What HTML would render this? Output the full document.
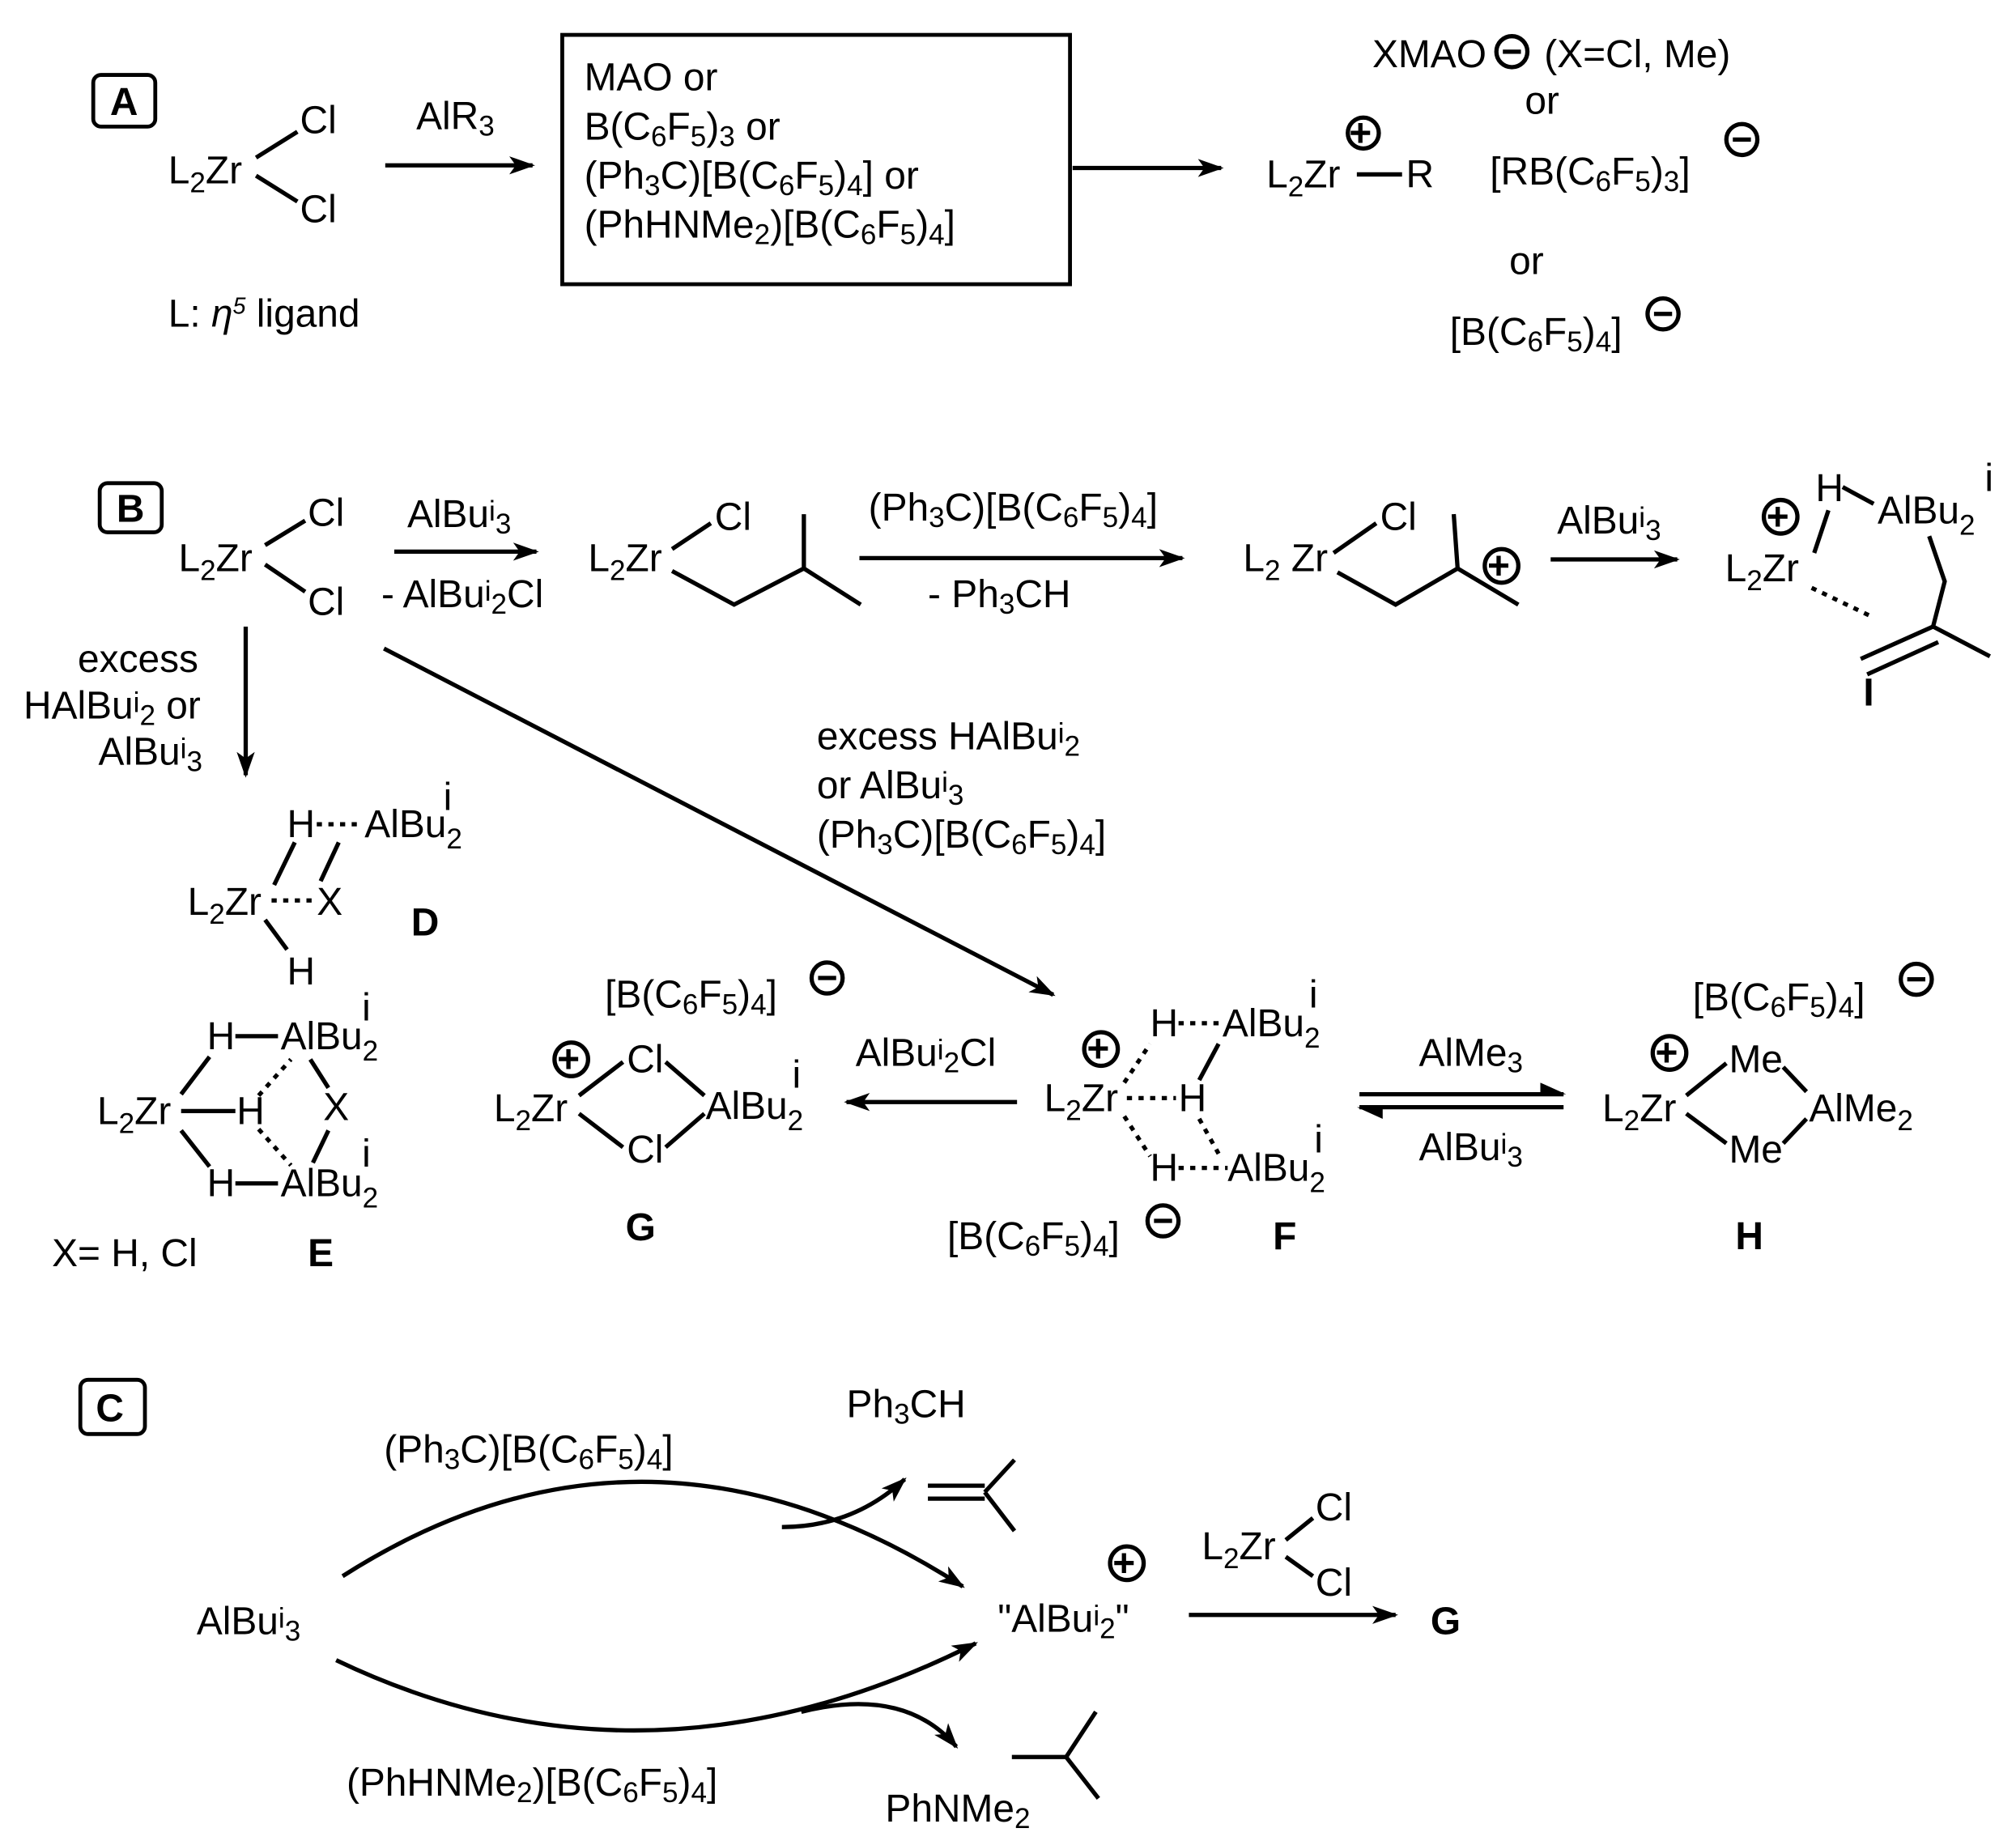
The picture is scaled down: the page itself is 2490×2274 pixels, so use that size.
<!DOCTYPE html>
<html><head><meta charset="utf-8"><style>
html,body{margin:0;padding:0;background:#fff}
svg{display:block}
text{font-family:"Liberation Sans Narrow","Liberation Sans",sans-serif;font-size:30px;fill:#000}
.b{font-weight:bold}
line,path,polyline{stroke:#000;stroke-width:3.3;fill:none}
.d{stroke-dasharray:4 5}
circle{fill:none;stroke:#000;stroke-width:3.3}
</style></head><body>
<svg width="2490" height="2274" viewBox="0 0 1560 1425" xmlns="http://www.w3.org/2000/svg">
<defs>
<marker id="ah" viewBox="0 0 20 14" refX="18" refY="7" markerWidth="20" markerHeight="14" markerUnits="userSpaceOnUse" orient="auto"><path d="M0,0 L20,7 L0,14 L5,7 Z" style="fill:#000;stroke:none"/></marker>
<marker id="hh" viewBox="0 0 20 10" refX="18" refY="9" markerWidth="20" markerHeight="10" markerUnits="userSpaceOnUse" orient="auto"><path d="M0,0 L20,9 L0,9 Z" style="fill:#000;stroke:none"/></marker>
</defs>

<!-- Section A -->
<rect x="72" y="58" width="48" height="40" rx="6" style="fill:none;stroke:#000;stroke-width:3"/>
<text x="85" y="89" class="b">A</text>
<text x="130" y="142">L<tspan font-size="22" baseline-shift="-7">2</tspan>Zr</text>
<text x="232" y="103">Cl</text><text x="232" y="172">Cl</text>
<line x1="198" y1="122" x2="230" y2="102"/><line x1="198" y1="136" x2="230" y2="156"/>
<text x="130" y="253">L: <tspan font-style="italic">η</tspan><tspan font-size="18" baseline-shift="10" font-style="italic">5</tspan> ligand</text>
<line x1="298" y1="128" x2="412" y2="128" marker-end="url(#ah)"/>
<text x="322" y="100">AlR<tspan font-size="22" baseline-shift="-5">3</tspan></text>
<rect x="435" y="27" width="393" height="193" style="fill:none;stroke:#000;stroke-width:3"/>
<text x="452" y="70">MAO or</text>
<text x="452" y="108">B(C<tspan font-size="22" baseline-shift="-5">6</tspan>F<tspan font-size="22" baseline-shift="-5">5</tspan>)<tspan font-size="22" baseline-shift="-5">3</tspan> or</text>
<text x="452" y="146">(Ph<tspan font-size="22" baseline-shift="-5">3</tspan>C)[B(C<tspan font-size="22" baseline-shift="-5">6</tspan>F<tspan font-size="22" baseline-shift="-5">5</tspan>)<tspan font-size="22" baseline-shift="-5">4</tspan>] or</text>
<text x="452" y="184">(PhHNMe<tspan font-size="22" baseline-shift="-5">2</tspan>)[B(C<tspan font-size="22" baseline-shift="-5">6</tspan>F<tspan font-size="22" baseline-shift="-5">5</tspan>)<tspan font-size="22" baseline-shift="-5">4</tspan>]</text>
<line x1="830" y1="130" x2="945" y2="130" marker-end="url(#ah)"/>
<text x="980" y="145">L<tspan font-size="22" baseline-shift="-7">2</tspan>Zr</text>
<line x1="1050" y1="135" x2="1085" y2="135"/><text x="1088" y="145">R</text>
<circle cx="1055" cy="103" r="12"/><text x="1044" y="113" class="b" font-size="28">+</text>
<text x="1062" y="52">XMAO</text>
<circle cx="1170" cy="40" r="12"/><line x1="1163" y1="40" x2="1177" y2="40"/>
<text x="1195" y="52">(X=Cl, Me)</text>
<text x="1180" y="88">or</text>
<text x="1153" y="143">[RB(C<tspan font-size="22" baseline-shift="-5">6</tspan>F<tspan font-size="22" baseline-shift="-5">5</tspan>)<tspan font-size="22" baseline-shift="-5">3</tspan>]</text>
<circle cx="1348" cy="108" r="12"/><line x1="1341" y1="108" x2="1355" y2="108"/>
<text x="1168" y="212">or</text>
<text x="1122" y="267">[B(C<tspan font-size="22" baseline-shift="-5">6</tspan>F<tspan font-size="22" baseline-shift="-5">5</tspan>)<tspan font-size="22" baseline-shift="-5">4</tspan>]</text>
<circle cx="1287" cy="243" r="12"/><line x1="1280" y1="243" x2="1294" y2="243"/>

<!-- Section B -->
<rect x="77" y="374" width="48" height="38" rx="6" style="fill:none;stroke:#000;stroke-width:3"/>
<text x="90" y="404" class="b">B</text>
<text x="138" y="442">L<tspan font-size="22" baseline-shift="-7">2</tspan>Zr</text>
<text x="238" y="407">Cl</text><text x="238" y="476">Cl</text>
<line x1="205" y1="422" x2="236" y2="403"/><line x1="205" y1="437" x2="236" y2="458"/>
<line x1="305" y1="427" x2="415" y2="427" marker-end="url(#ah)"/>
<text x="315" y="408">AlBu<tspan font-size="22" baseline-shift="5">i</tspan><tspan font-size="22" baseline-shift="-5">3</tspan></text>
<text x="295" y="470">- AlBu<tspan font-size="22" baseline-shift="5">i</tspan><tspan font-size="22" baseline-shift="-5">2</tspan>Cl</text>
<text x="455" y="442">L<tspan font-size="22" baseline-shift="-7">2</tspan>Zr</text>
<text x="553" y="410">Cl</text>
<line x1="520" y1="425" x2="550" y2="405"/>
<polyline points="520,442 568,468 622,440 622,398"/><line x1="622" y1="440" x2="666" y2="468"/>
<line x1="665" y1="432" x2="915" y2="432" marker-end="url(#ah)"/>
<text x="672" y="403">(Ph<tspan font-size="22" baseline-shift="-5">3</tspan>C)[B(C<tspan font-size="22" baseline-shift="-5">6</tspan>F<tspan font-size="22" baseline-shift="-5">5</tspan>)<tspan font-size="22" baseline-shift="-5">4</tspan>]</text>
<text x="718" y="470">- Ph<tspan font-size="22" baseline-shift="-5">3</tspan>CH</text>
<text x="962" y="442">L<tspan font-size="22" baseline-shift="-7">2</tspan> Zr</text>
<text x="1068" y="410">Cl</text>
<line x1="1032" y1="428" x2="1065" y2="405"/>
<polyline points="1035,443 1080,468 1128,440 1125,398"/><line x1="1128" y1="440" x2="1175" y2="468"/>
<circle cx="1162" cy="438" r="13"/><text x="1151" y="448" class="b" font-size="28">+</text>
<line x1="1200" y1="433" x2="1298" y2="433" marker-end="url(#ah)"/>
<text x="1205" y="413">AlBu<tspan font-size="22" baseline-shift="5">i</tspan><tspan font-size="22" baseline-shift="-5">3</tspan></text>
<circle cx="1378" cy="400" r="13"/><text x="1367" y="410" class="b" font-size="28">+</text>
<text x="1405" y="388">H</text>
<line x1="1426" y1="377" x2="1450" y2="390"/>
<text x="1453" y="405">AlBu<tspan font-size="22" baseline-shift="-9">2</tspan></text>
<text x="1536" y="380" font-size="24">i</text>
<line x1="1415" y1="395" x2="1404" y2="428"/>
<text x="1335" y="450">L<tspan font-size="22" baseline-shift="-7">2</tspan>Zr</text>
<line x1="1402" y1="455" x2="1450" y2="478" class="d"/>
<polyline points="1493,415 1505,450 1496,485"/>
<line x1="1496" y1="485" x2="1540" y2="508"/>
<line x1="1496" y1="485" x2="1440" y2="510"/>
<line x1="1500" y1="497" x2="1445" y2="522"/>
<text x="1442" y="546" class="b">I</text>

<line x1="190" y1="485" x2="190" y2="600" marker-end="url(#ah)"/>
<text x="60" y="520">excess</text>
<text x="18" y="556">HAlBu<tspan font-size="22" baseline-shift="5">i</tspan><tspan font-size="22" baseline-shift="-5">2</tspan> or</text>
<text x="76" y="592">AlBu<tspan font-size="22" baseline-shift="5">i</tspan><tspan font-size="22" baseline-shift="-5">3</tspan></text>
<line x1="297" y1="502" x2="815" y2="770" marker-end="url(#ah)"/>
<text x="632" y="580">excess HAlBu<tspan font-size="22" baseline-shift="5">i</tspan><tspan font-size="22" baseline-shift="-5">2</tspan></text>
<text x="632" y="618">or AlBu<tspan font-size="22" baseline-shift="5">i</tspan><tspan font-size="22" baseline-shift="-5">3</tspan></text>
<text x="632" y="656">(Ph<tspan font-size="22" baseline-shift="-5">3</tspan>C)[B(C<tspan font-size="22" baseline-shift="-5">6</tspan>F<tspan font-size="22" baseline-shift="-5">5</tspan>)<tspan font-size="22" baseline-shift="-5">4</tspan>]</text>

<!-- D -->
<text x="222" y="648">H</text><line x1="245" y1="638" x2="280" y2="638" class="d"/>
<text x="282" y="648">AlBu<tspan font-size="22" baseline-shift="-9">2</tspan></text><text x="343" y="627" font-size="24">i</text>
<line x1="228" y1="652" x2="212" y2="685"/><line x1="262" y1="652" x2="248" y2="682"/>
<text x="145" y="708">L<tspan font-size="22" baseline-shift="-7">2</tspan>Zr</text>
<line x1="210" y1="697" x2="243" y2="697" class="d"/><text x="245" y="708">X</text>
<line x1="205" y1="712" x2="222" y2="735"/><text x="222" y="762">H</text>
<text x="318" y="724" class="b">D</text>

<!-- E -->
<text x="160" y="812">H</text><line x1="182" y1="802" x2="215" y2="802"/>
<text x="217" y="812">AlBu<tspan font-size="22" baseline-shift="-9">2</tspan></text><text x="280" y="790" font-size="24">i</text>
<text x="75" y="870">L<tspan font-size="22" baseline-shift="-7">2</tspan>Zr</text><line x1="140" y1="860" x2="182" y2="860"/><text x="183" y="870">H</text>
<text x="250" y="867">X</text>
<text x="160" y="926">H</text><line x1="182" y1="916" x2="215" y2="916"/>
<text x="217" y="926">AlBu<tspan font-size="22" baseline-shift="-9">2</tspan></text><text x="280" y="903" font-size="24">i</text>
<line x1="162" y1="818" x2="140" y2="847"/><line x1="140" y1="875" x2="162" y2="903"/>
<line x1="200" y1="848" x2="225" y2="820" class="d"/><line x1="200" y1="874" x2="225" y2="902" class="d"/>
<line x1="240" y1="820" x2="254" y2="842"/><line x1="254" y1="875" x2="242" y2="900"/>
<text x="40" y="980">X= H, Cl</text><text x="238" y="980" class="b">E</text>

<!-- G -->
<text x="468" y="780">[B(C<tspan font-size="22" baseline-shift="-5">6</tspan>F<tspan font-size="22" baseline-shift="-5">5</tspan>)<tspan font-size="22" baseline-shift="-5">4</tspan>]</text>
<circle cx="640" cy="757" r="12"/><line x1="633" y1="757" x2="647" y2="757"/>
<circle cx="442" cy="820" r="13"/><text x="431" y="830" class="b" font-size="28">+</text>
<text x="485" y="830">Cl</text>
<text x="382" y="868">L<tspan font-size="22" baseline-shift="-7">2</tspan>Zr</text>
<line x1="448" y1="848" x2="482" y2="822"/><line x1="448" y1="862" x2="482" y2="888"/>
<line x1="515" y1="822" x2="545" y2="848"/><line x1="515" y1="888" x2="545" y2="862"/>
<text x="546" y="866">AlBu<tspan font-size="22" baseline-shift="-9">2</tspan></text><text x="613" y="842" font-size="24">i</text>
<text x="485" y="900">Cl</text>
<text x="484" y="960" class="b">G</text>
<line x1="787" y1="853" x2="655" y2="853" marker-end="url(#ah)"/>
<text x="662" y="825">AlBu<tspan font-size="22" baseline-shift="5">i</tspan><tspan font-size="22" baseline-shift="-5">2</tspan>Cl</text>

<!-- F -->
<circle cx="852" cy="812" r="13"/><text x="841" y="822" class="b" font-size="28">+</text>
<text x="890" y="802">H</text><line x1="912" y1="792" x2="944" y2="792" class="d"/>
<text x="946" y="802">AlBu<tspan font-size="22" baseline-shift="-9">2</tspan></text><text x="1013" y="780" font-size="24">i</text>
<text x="808" y="860">L<tspan font-size="22" baseline-shift="-7">2</tspan>Zr</text><line x1="872" y1="850" x2="910" y2="850" class="d"/><text x="912" y="860">H</text>
<line x1="870" y1="838" x2="890" y2="808" class="d"/><line x1="870" y1="864" x2="890" y2="895" class="d"/>
<line x1="928" y1="836" x2="943" y2="808"/><line x1="928" y1="866" x2="943" y2="893" class="d"/>
<text x="890" y="914">H</text><line x1="912" y1="904" x2="950" y2="904" class="d"/>
<text x="950" y="914">AlBu<tspan font-size="22" baseline-shift="-9">2</tspan></text><text x="1017" y="892" font-size="24">i</text>
<text x="733" y="967">[B(C<tspan font-size="22" baseline-shift="-5">6</tspan>F<tspan font-size="22" baseline-shift="-5">5</tspan>)<tspan font-size="22" baseline-shift="-5">4</tspan>]</text>
<circle cx="900" cy="945" r="12"/><line x1="893" y1="945" x2="907" y2="945"/>
<text x="985" y="967" class="b">F</text>
<line x1="1052" y1="847" x2="1210" y2="847" marker-end="url(#hh)"/>
<line x1="1210" y1="857" x2="1052" y2="857" marker-end="url(#hh)"/>
<text x="1098" y="825">AlMe<tspan font-size="22" baseline-shift="-5">3</tspan></text>
<text x="1098" y="898">AlBu<tspan font-size="22" baseline-shift="5">i</tspan><tspan font-size="22" baseline-shift="-5">3</tspan></text>

<!-- H -->
<text x="1310" y="782">[B(C<tspan font-size="22" baseline-shift="-5">6</tspan>F<tspan font-size="22" baseline-shift="-5">5</tspan>)<tspan font-size="22" baseline-shift="-5">4</tspan>]</text>
<circle cx="1483" cy="758" r="12"/><line x1="1476" y1="758" x2="1490" y2="758"/>
<circle cx="1292" cy="815" r="13"/><text x="1281" y="825" class="b" font-size="28">+</text>
<text x="1338" y="830">Me</text>
<text x="1240" y="868">L<tspan font-size="22" baseline-shift="-7">2</tspan>Zr</text>
<line x1="1305" y1="848" x2="1336" y2="823"/><line x1="1305" y1="862" x2="1336" y2="885"/>
<line x1="1380" y1="826" x2="1398" y2="845"/><line x1="1380" y1="885" x2="1398" y2="866"/>
<text x="1400" y="868">AlMe<tspan font-size="22" baseline-shift="-7">2</tspan></text>
<text x="1338" y="900">Me</text>
<text x="1343" y="967" class="b">H</text>

<!-- Section C -->
<rect x="62" y="1068" width="50" height="42" rx="6" style="fill:none;stroke:#000;stroke-width:3"/>
<text x="74" y="1100" class="b">C</text>
<text x="152" y="1265">AlBu<tspan font-size="22" baseline-shift="5">i</tspan><tspan font-size="22" baseline-shift="-5">3</tspan></text>
<path d="M265,1220 Q500,1070 745,1228" marker-end="url(#ah)"/>
<path d="M605,1182 Q660,1182 700,1145" marker-end="url(#ah)"/>
<text x="297" y="1132">(Ph<tspan font-size="22" baseline-shift="-5">3</tspan>C)[B(C<tspan font-size="22" baseline-shift="-5">6</tspan>F<tspan font-size="22" baseline-shift="-5">5</tspan>)<tspan font-size="22" baseline-shift="-5">4</tspan>]</text>
<text x="655" y="1097">Ph<tspan font-size="22" baseline-shift="-5">3</tspan>CH</text>
<line x1="718" y1="1150" x2="762" y2="1150"/><line x1="718" y1="1160" x2="762" y2="1160"/>
<line x1="762" y1="1155" x2="785" y2="1130"/><line x1="762" y1="1155" x2="785" y2="1185"/>
<path d="M260,1285 Q500,1400 755,1272" marker-end="url(#ah)"/>
<path d="M620,1325 Q700,1305 740,1352" marker-end="url(#ah)"/>
<text x="268" y="1390">(PhHNMe<tspan font-size="22" baseline-shift="-5">2</tspan>)[B(C<tspan font-size="22" baseline-shift="-5">6</tspan>F<tspan font-size="22" baseline-shift="-5">5</tspan>)<tspan font-size="22" baseline-shift="-5">4</tspan>]</text>
<text x="685" y="1410">PhNMe<tspan font-size="22" baseline-shift="-5">2</tspan></text>
<line x1="783" y1="1360" x2="825" y2="1360"/><line x1="825" y1="1360" x2="848" y2="1325"/><line x1="825" y1="1360" x2="850" y2="1392"/>
<text x="772" y="1263">"AlBu<tspan font-size="22" baseline-shift="5">i</tspan><tspan font-size="22" baseline-shift="-5">2</tspan>"</text>
<circle cx="872" cy="1210" r="13"/><text x="861" y="1220" class="b" font-size="28">+</text>
<text x="930" y="1207">L<tspan font-size="22" baseline-shift="-7">2</tspan>Zr</text>
<text x="1018" y="1177">Cl</text><text x="1018" y="1235">Cl</text>
<line x1="995" y1="1192" x2="1016" y2="1175"/><line x1="995" y1="1205" x2="1016" y2="1220"/>
<line x1="920" y1="1250" x2="1080" y2="1250" marker-end="url(#ah)"/>
<text x="1107" y="1265" class="b">G</text>
</svg>
</body></html>
